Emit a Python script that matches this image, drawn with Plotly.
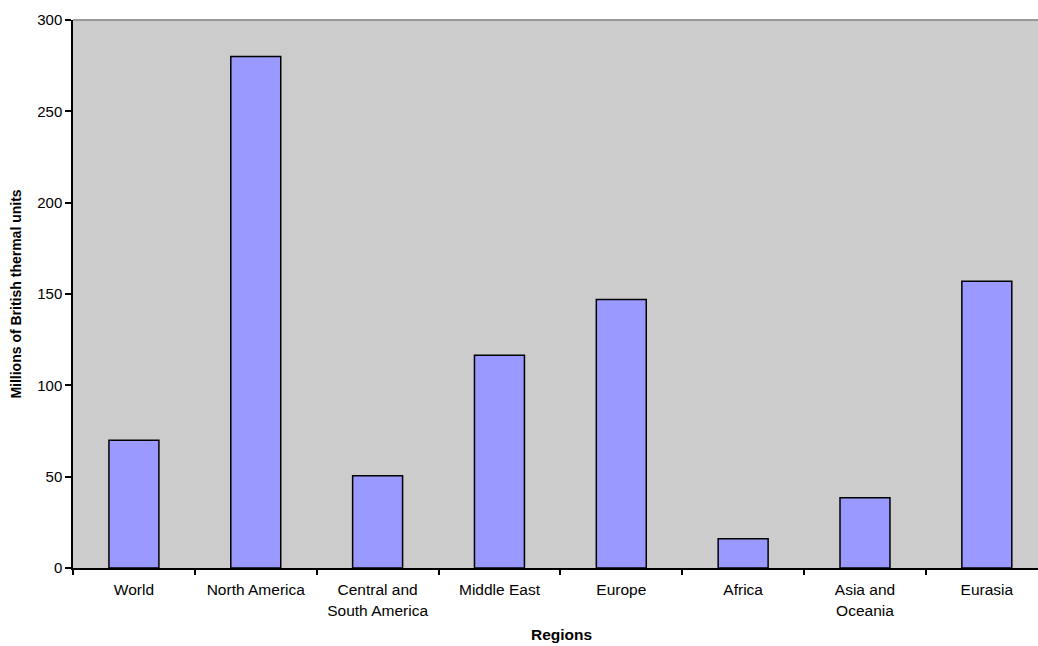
import plotly.graph_objects as go

categories = ["World", "North America", "Central and<br>South America", "Middle East",
              "Europe", "Africa", "Asia and<br>Oceania", "Eurasia"]
values = [70, 280, 50.5, 116.5, 147, 16, 38.5, 157]
y_ticks = [0, 50, 100, 150, 200, 250, 300]

FONT = "Liberation Sans, Arial, sans-serif"

fig = go.Figure(go.Bar(
    x=categories, y=values,
    marker=dict(color="#9999FF", line=dict(color="black", width=1.5)),
))

fig.update_layout(
    width=1038, height=646,
    margin=dict(l=73, r=0, t=20, b=78),
    paper_bgcolor="white", plot_bgcolor="#CCCCCC",
    bargap=0.59, showlegend=False,
    font=dict(family=FONT, size=15, color="black"),
)
fig.update_xaxes(
    type="category", range=[-0.5, 7.42], tickson="boundaries",
    ticks="outside", ticklen=5, tickcolor="black", tickwidth=1.5,
    showline=True, linecolor="black", linewidth=1.5,
    showgrid=False, tickfont=dict(size=15.5), ticklabelstandoff=7,
)
fig.update_yaxes(
    range=[0, 300], tickvals=y_ticks, ticks="outside", ticklen=6,
    tickcolor="black", tickwidth=1.5, showline=True, linecolor="black", linewidth=1.5,
    showgrid=False, zeroline=False, tickfont=dict(size=15),
    title=dict(text="<b>Millions of British thermal units</b>", font=dict(size=14), standoff=12),
)
fig.add_shape(type="line", xref="paper", yref="paper", x0=0, x1=1, y0=1, y1=1,
              line=dict(color="#999999", width=2))
fig.add_annotation(text="<b>Regions</b>", xref="paper", yref="paper",
                   x=0.5057, y=-0.122, showarrow=False, yanchor="middle",
                   font=dict(size=15.5))

fig.write_html("out.html")
